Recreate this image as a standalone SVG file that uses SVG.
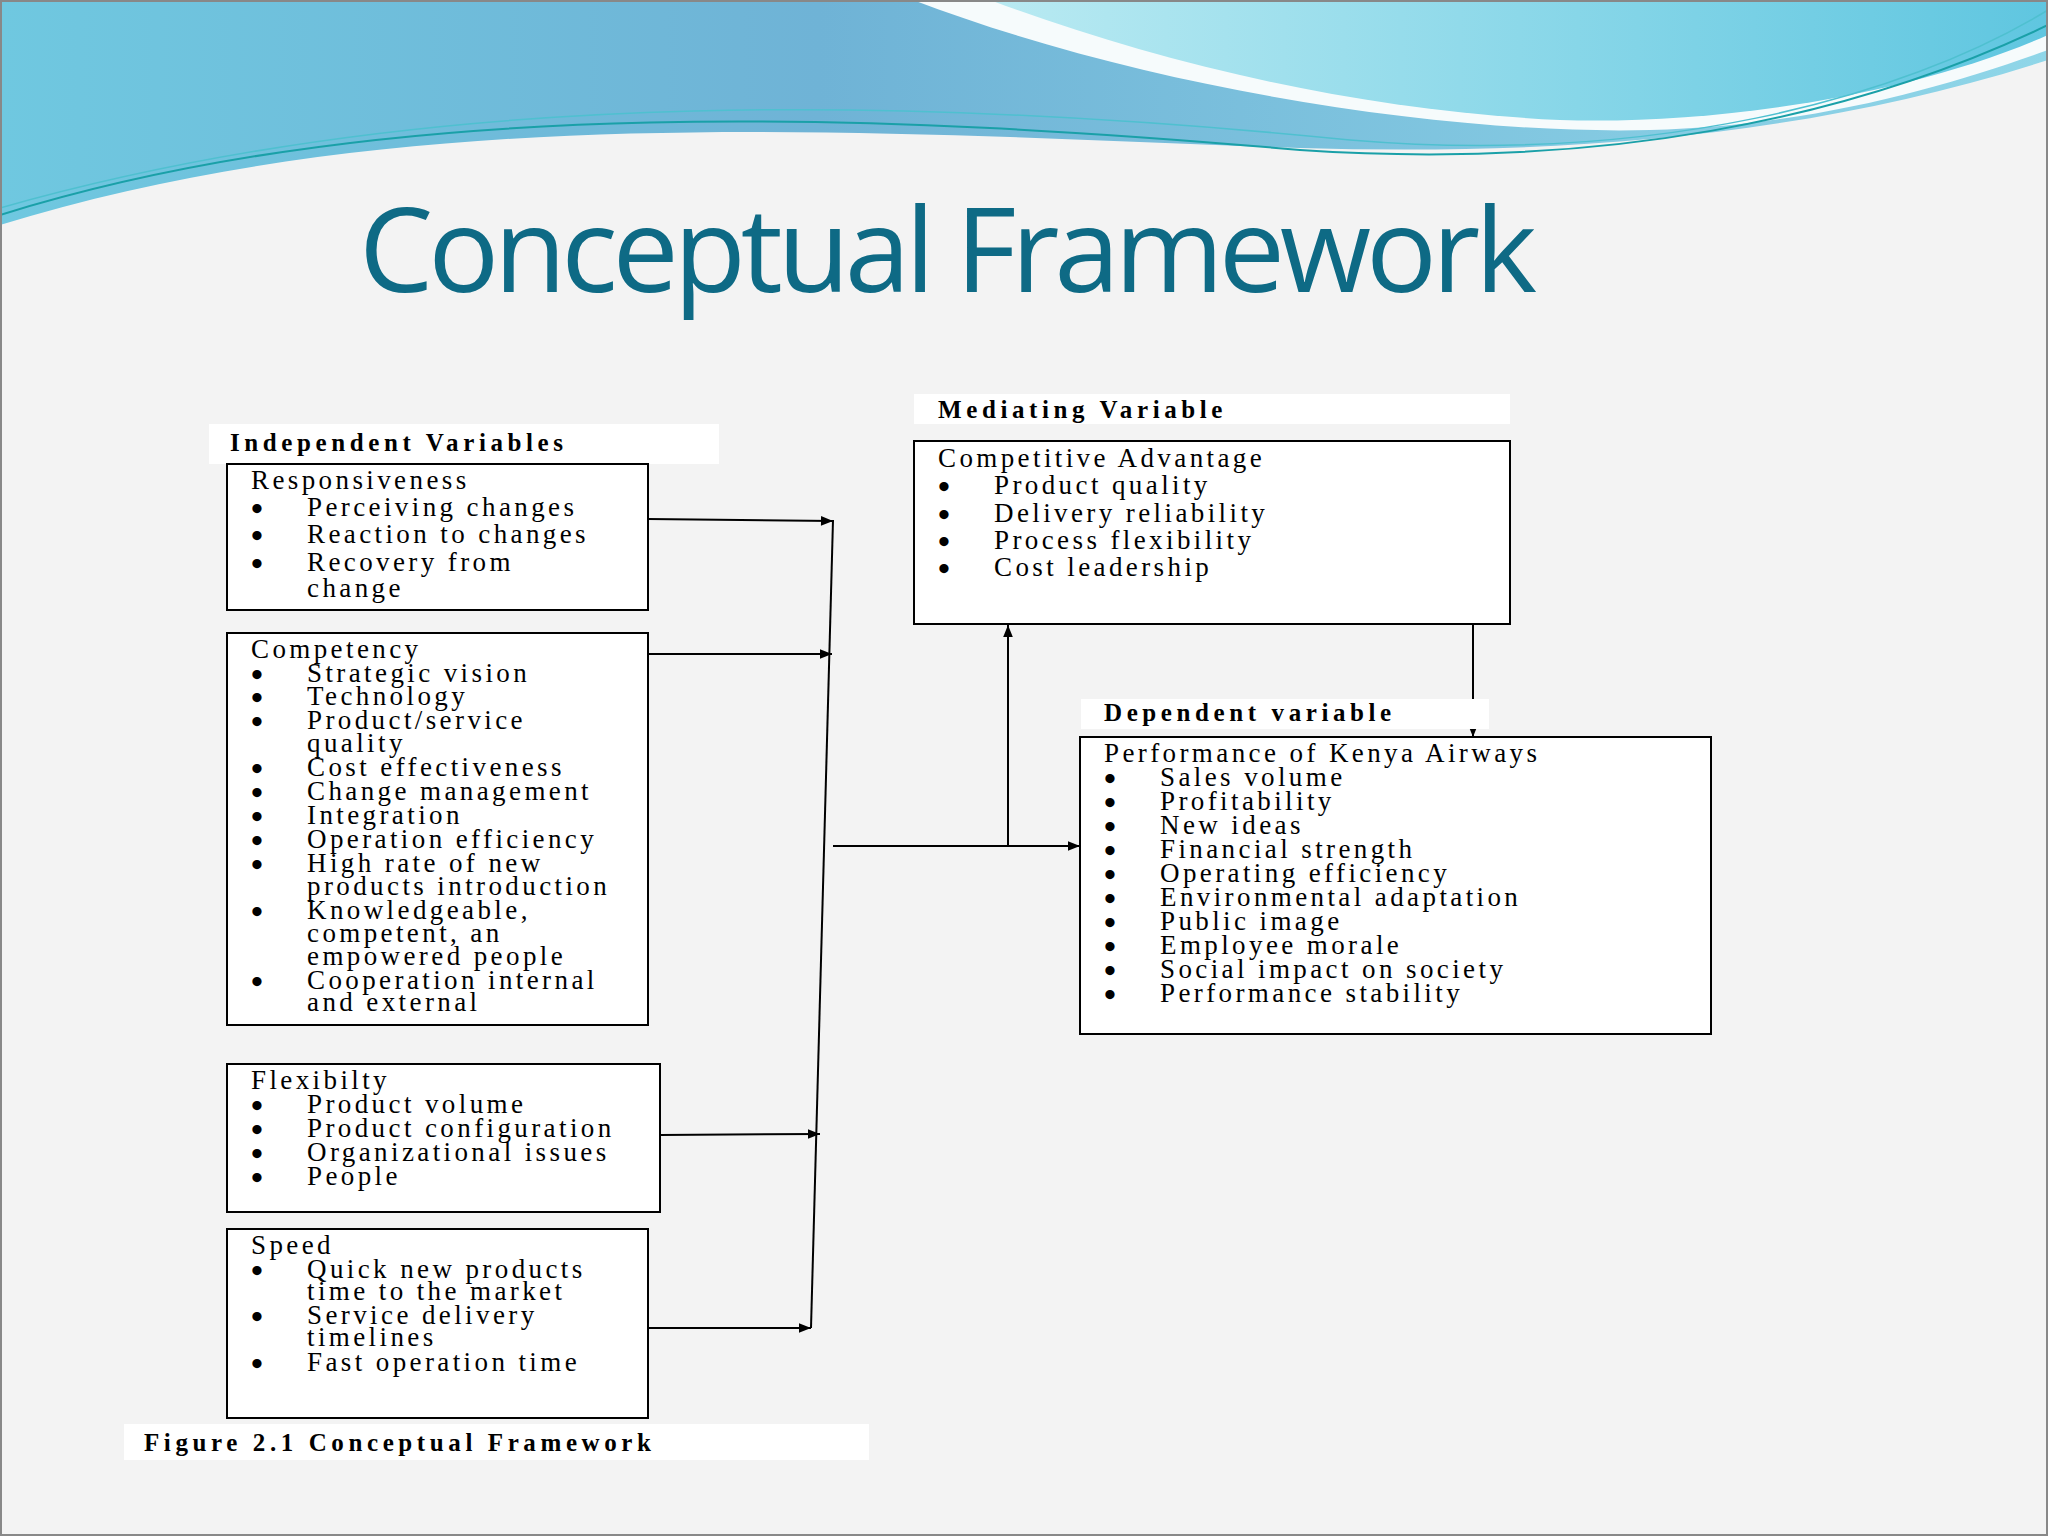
<svg xmlns="http://www.w3.org/2000/svg" width="2048" height="1536" viewBox="0 0 2048 1536">
<defs>
<linearGradient id="bg1" x1="0" y1="0" x2="1" y2="0"><stop offset="0" stop-color="#6fc8e0"/><stop offset="0.4" stop-color="#6fb3d6"/><stop offset="1" stop-color="#8fd6e8"/></linearGradient>
<linearGradient id="bg2" x1="0" y1="0" x2="1" y2="0"><stop offset="0" stop-color="#b9eaf2"/><stop offset="1" stop-color="#5fc6e0"/></linearGradient>
<marker id="ah" viewBox="0 0 10 10" refX="10" refY="5" markerWidth="18" markerHeight="12" markerUnits="userSpaceOnUse" orient="auto"><path d="M0,1 L10,5 L0,9 Z" fill="#000"/></marker>
<style>
.t{font-family:"Liberation Serif",serif;font-size:27px;letter-spacing:3.4px;fill:#000}
.d{font-family:"Liberation Serif",serif;font-size:34px;font-weight:bold;letter-spacing:0;fill:#000}
.b{font-family:"Liberation Serif",serif;font-size:25px;font-weight:bold;letter-spacing:4.6px;fill:#000}
.box{fill:#fff;stroke:#000;stroke-width:2}
.lab{fill:#fff}
.c{stroke:#000;stroke-width:2;fill:none;marker-end:url(#ah)}
</style>
</defs>
<rect width="2048" height="1536" fill="#f3f3f3"/>
<path d="M0,0 H2048 V60 C1800,140 1550,155 1300,148 C900,135 420,95 0,225 Z" fill="url(#bg1)"/>
<path d="M913,0 C1150,90 1450,135 1650,130 C1820,125 1950,85 2048,50 V0 Z" fill="#f6fbfc"/>
<path d="M990,0 H2048 V35 C1900,100 1700,125 1560,120 C1350,110 1150,60 990,0 Z" fill="url(#bg2)"/>
<path d="M0,215 C400,90 900,115 1300,150 C1600,170 1850,120 2048,25" stroke="#1aa0a8" stroke-width="2" fill="none"/>
<path d="M0,208 C450,80 950,100 1350,140 C1650,165 1900,100 2048,10" stroke="#4fc0d0" stroke-width="1.5" fill="none"/>
<rect x="1" y="1" width="2046" height="1534" fill="none" stroke="#888" stroke-width="2"/>
<text x="359" y="292" font-family="Open Sans, sans-serif" font-size="118" fill="#0e6a85" textLength="1178">Conceptual Framework</text>

<g id="connectors">
<line x1="833" y1="520" x2="811" y2="1328" stroke="#000" stroke-width="2"/>
<line class="c" x1="648" y1="519" x2="833" y2="521"/>
<line class="c" x1="648" y1="654" x2="832" y2="654"/>
<line class="c" x1="660" y1="1135" x2="820" y2="1134"/>
<line class="c" x1="648" y1="1328" x2="811" y2="1328"/>
<line class="c" x1="833" y1="846" x2="1080" y2="846"/>
<line class="c" x1="1008" y1="846" x2="1008" y2="625"/>
<line class="c" x1="1473" y1="624" x2="1473" y2="737"/>
</g>

<g id="indep-label"><rect class="lab" x="209" y="424" width="510" height="40"/><text class="b" x="230" y="451">Independent Variables</text></g>
<g id="responsiveness"><rect class="box" x="227" y="464" width="421" height="146"/>
<text class="t" x="251" y="489">Responsiveness</text>
<g class="t"><text class="d" x="251" y="520">•</text><text x="307" y="516">Perceiving changes</text>
<text class="d" x="251" y="547">•</text><text x="307" y="543">Reaction to changes</text>
<text class="d" x="251" y="575">•</text><text x="307" y="571">Recovery from</text><text x="307" y="597">change</text></g></g>

<g id="competency"><rect class="box" x="227" y="633" width="421" height="392"/>
<g class="t"><text x="251" y="658">Competency</text>
<text class="d" x="251" y="686">•</text><text x="307" y="682">Strategic vision</text>
<text class="d" x="251" y="709">•</text><text x="307" y="705">Technology</text>
<text class="d" x="251" y="733">•</text><text x="307" y="729">Product/service</text><text x="307" y="752">quality</text>
<text class="d" x="251" y="780">•</text><text x="307" y="776">Cost effectiveness</text>
<text class="d" x="251" y="804">•</text><text x="307" y="800">Change management</text>
<text class="d" x="251" y="828">•</text><text x="307" y="824">Integration</text>
<text class="d" x="251" y="852">•</text><text x="307" y="848">Operation efficiency</text>
<text class="d" x="251" y="876">•</text><text x="307" y="872">High rate of new</text><text x="307" y="895">products introduction</text>
<text class="d" x="251" y="923">•</text><text x="307" y="919">Knowledgeable,</text><text x="307" y="942">competent, an</text><text x="307" y="965">empowered people</text>
<text class="d" x="251" y="993">•</text><text x="307" y="989">Cooperation internal</text><text x="307" y="1011">and external</text></g></g>

<g id="flexibility"><rect class="box" x="227" y="1064" width="433" height="148"/>
<g class="t"><text x="251" y="1089">Flexibilty</text>
<text class="d" x="251" y="1117">•</text><text x="307" y="1113">Product volume</text>
<text class="d" x="251" y="1141">•</text><text x="307" y="1137">Product configuration</text>
<text class="d" x="251" y="1165">•</text><text x="307" y="1161">Organizational issues</text>
<text class="d" x="251" y="1189">•</text><text x="307" y="1185">People</text></g></g>

<g id="speed"><rect class="box" x="227" y="1229" width="421" height="189"/>
<g class="t"><text x="251" y="1254">Speed</text>
<text class="d" x="251" y="1282">•</text><text x="307" y="1278">Quick new products</text><text x="307" y="1300">time to the market</text>
<text class="d" x="251" y="1328">•</text><text x="307" y="1324">Service delivery</text><text x="307" y="1346">timelines</text>
<text class="d" x="251" y="1375">•</text><text x="307" y="1371">Fast operation time</text></g></g>

<g id="mediating-label"><rect class="lab" x="914" y="394" width="596" height="30"/><text class="b" x="938" y="418">Mediating Variable</text></g>
<g id="competitive"><rect class="box" x="914" y="441" width="596" height="183"/>
<g class="t"><text x="938" y="467">Competitive Advantage</text>
<text class="d" x="938" y="498">•</text><text x="994" y="494">Product quality</text>
<text class="d" x="938" y="526">•</text><text x="994" y="522">Delivery reliability</text>
<text class="d" x="938" y="553">•</text><text x="994" y="549">Process flexibility</text>
<text class="d" x="938" y="580">•</text><text x="994" y="576">Cost leadership</text></g></g>

<g id="dependent-label"><rect class="lab" x="1081" y="699" width="408" height="30"/><text class="b" x="1104" y="721">Dependent variable</text></g>
<g id="performance"><rect class="box" x="1080" y="737" width="631" height="297"/>
<g class="t"><text x="1104" y="762">Performance of Kenya Airways</text>
<text class="d" x="1104" y="790">•</text><text x="1160" y="786">Sales volume</text>
<text class="d" x="1104" y="814">•</text><text x="1160" y="810">Profitability</text>
<text class="d" x="1104" y="838">•</text><text x="1160" y="834">New ideas</text>
<text class="d" x="1104" y="862">•</text><text x="1160" y="858">Financial strength</text>
<text class="d" x="1104" y="886">•</text><text x="1160" y="882">Operating efficiency</text>
<text class="d" x="1104" y="910">•</text><text x="1160" y="906">Environmental adaptation</text>
<text class="d" x="1104" y="934">•</text><text x="1160" y="930">Public image</text>
<text class="d" x="1104" y="958">•</text><text x="1160" y="954">Employee morale</text>
<text class="d" x="1104" y="982">•</text><text x="1160" y="978">Social impact on society</text>
<text class="d" x="1104" y="1006">•</text><text x="1160" y="1002">Performance stability</text></g></g>

<g id="caption"><rect class="lab" x="124" y="1424" width="745" height="36"/><text class="b" x="144" y="1451">Figure 2.1 Conceptual Framework</text></g>
</svg>
